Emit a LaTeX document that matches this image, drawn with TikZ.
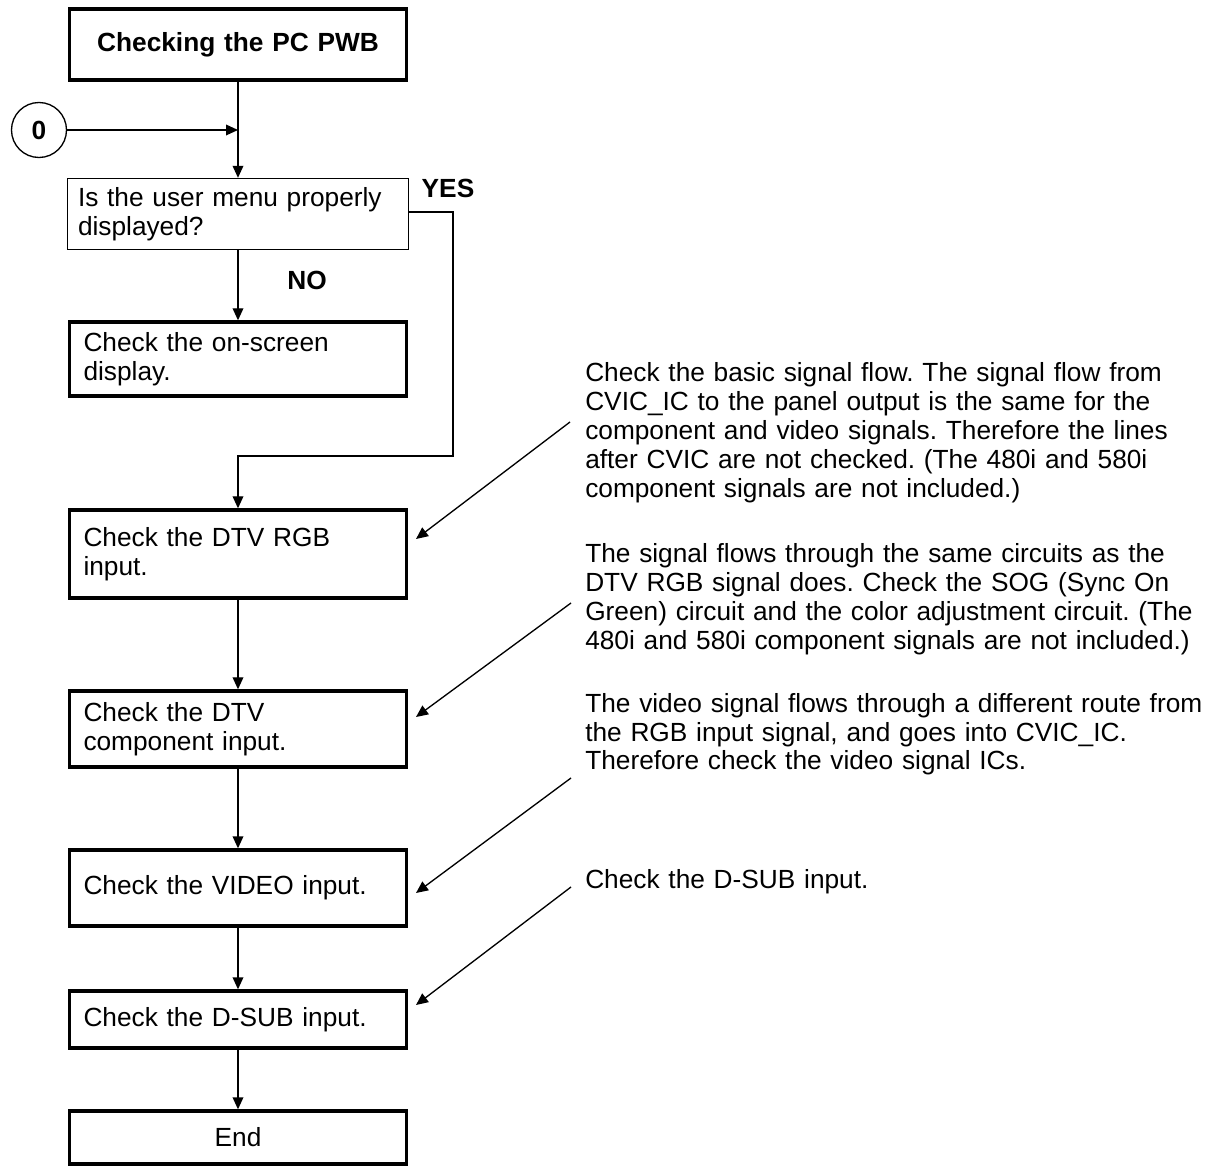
\documentclass[tikz,border=0pt]{standalone}
\usepackage{fontspec}
\setmainfont{Liberation Sans}
\usetikzlibrary{arrows.meta}
\begin{document}
\frenchspacing
\begin{tikzpicture}[x=0.75pt,y=-0.75pt,
  every node/.style={font=\fontsize{19.7pt}{21.75pt}\selectfont\frenchspacing},
  arr/.style={line width=1pt,-{Triangle[length=9pt,width=8pt]}},
  thickbox/.style={draw,line width=2.5pt,inner xsep=10.5pt,inner ysep=2pt,text width=231.75pt,align=left},
  decbox/.style={draw,line width=1pt,inner xsep=7.875pt,inner ysep=2pt,text width=240pt,align=left,minimum height=53.25pt},
  note/.style={anchor=base west,inner sep=0pt,text width=470pt,align=left},
  lbl/.style={font=\fontsize{19.7pt}{21.75pt}\selectfont\bfseries,inner sep=0pt}
]
\useasboundingbox (0,0) rectangle (1208,1169);

% main column
\node[thickbox,align=center,minimum height=53.25pt,font=\fontsize{19.7pt}{21.75pt}\selectfont\bfseries] (title) at (238,44.5) {Checking the PC PWB};
\node[draw,circle,line width=1pt,minimum size=41.25pt,inner sep=0pt,font=\fontsize{19.7pt}{21.75pt}\selectfont\bfseries] (zero) at (39,130) {0};
\coordinate (join) at (238,130);
\node[decbox] (dec) at (238,214) {Is the user menu properly\\displayed?};
\node[thickbox,minimum height=55.5pt] (osd) at (238,359) {Check the on-screen\\display.};
\node[thickbox,minimum height=66pt] (rgb) at (238,554) {Check the DTV RGB\\input.};
\node[thickbox,minimum height=57pt] (comp) at (238,729) {Check the DTV\\component input.};
\node[thickbox,minimum height=57pt] (video) at (238,888) {Check the VIDEO input.};
\node[thickbox,minimum height=42.75pt] (dsub) at (238,1019.5) {Check the D-SUB input.};
\node[thickbox,align=center,minimum height=39.75pt] (end) at (238,1137.5) {End};

% labels
\node[lbl] (yes) at (448,188.5) {YES};
\node[lbl] (no) at (307,280) {NO};

% connectors
\draw[arr] (title) -- (dec);
\draw[arr] (zero) -- (join);
\draw[arr] (dec) -- (osd);
\coordinate (y1) at (453,212);
\coordinate (y2) at (453,456);
\coordinate (y3) at (238,456);
\draw[arr] (dec.east |- y1) -- (y1) -- (y2) -- (y3) -- (rgb.north);
\draw[arr] (rgb) -- (comp);
\draw[arr] (comp) -- (video);
\draw[arr] (video) -- (dsub);
\draw[arr] (dsub) -- (end);

% notes
\node[note] (n1) at (585,382) {Check the basic signal flow. The signal flow from\\CVIC\_IC to the panel output is the same for the\\component and video signals. Therefore the lines\\after CVIC are not checked. (The 480i and 580i\\component signals are not included.)};
\node[note] (n2) at (585,563) {The signal flows through the same circuits as the\\DTV RGB signal does. Check the SOG (Sync On\\Green) circuit and the color adjustment circuit. (The\\480i and 580i component signals are not included.)};
\node[note] (n3) at (585,712) {The video signal flows through a different route from\\the RGB input signal, and goes into CVIC\_IC.\\Therefore check the video signal ICs.};
\node[note] (n4) at (585,888) {Check the D-SUB input.};

\coordinate (s1) at (570,422); \coordinate (t1) at (416,539);
\coordinate (s2) at (571,603); \coordinate (t2) at (416,717);
\coordinate (s3) at (571,778); \coordinate (t3) at (416,893);
\coordinate (s4) at (571,887); \coordinate (t4) at (416,1005);
\draw[arr] (s1) -- (t1);
\draw[arr] (s2) -- (t2);
\draw[arr] (s3) -- (t3);
\draw[arr] (s4) -- (t4);
\end{tikzpicture}
\end{document}
